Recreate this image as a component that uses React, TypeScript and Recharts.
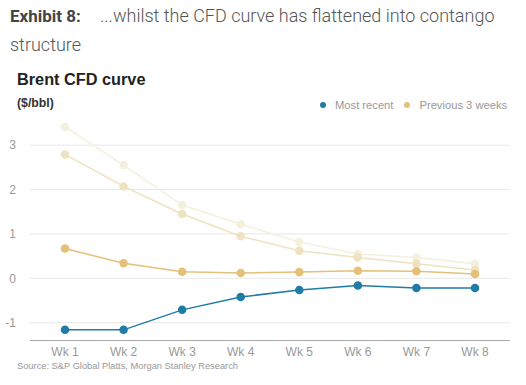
import React from "react";
import { LineChart, Line, XAxis, YAxis, CartesianGrid } from "recharts";

const weeks = ["Wk 1", "Wk 2", "Wk 3", "Wk 4", "Wk 5", "Wk 6", "Wk 7", "Wk 8"];
const mostRecent = [-1.16, -1.16, -0.71, -0.42, -0.26, -0.16, -0.22, -0.22];
const oneWeekAgo = [0.67, 0.34, 0.15, 0.12, 0.14, 0.17, 0.16, 0.1];
const twoWeeksAgo = [2.79, 2.07, 1.45, 0.95, 0.62, 0.47, 0.33, 0.19];
const threeWeeksAgo = [3.41, 2.55, 1.65, 1.22, 0.82, 0.55, 0.47, 0.33];
const yTicks = [-1, 0, 1, 2, 3];

const data = weeks.map((w, i) => ({
  week: w,
  recent: mostRecent[i],
  w1: oneWeekAgo[i],
  w2: twoWeeksAgo[i],
  w3: threeWeeksAgo[i],
}));

const BLUE = "#1f7ca6";
const GOLD = "#e4c079";
const GOLD2 = "#efe2c0";
const GOLD3 = "#f5f0dc";

export default function App() {
  return (
    <div
      style={{
        position: "fixed",
        left: 0,
        top: 0,
        width: 526,
        height: 385,
        background: "#fff",
        overflow: "hidden",
        fontFamily: "Arial, 'Liberation Sans', sans-serif",
      }}
    >
      <div
        style={{
          position: "absolute",
          left: 10,
          top: 1,
          fontFamily: "Roboto, sans-serif",
          fontSize: 17,
          lineHeight: "30px",
          color: "#444",
          fontWeight: 700,
          whiteSpace: "nowrap",
        }}
      >
        Exhibit 8:
      </div>
      <div
        style={{
          position: "absolute",
          left: 100,
          top: 1,
          fontFamily: "Roboto, sans-serif",
          fontSize: 18,
          lineHeight: "30px",
          color: "#555",
          fontWeight: 300,
          whiteSpace: "nowrap",
        }}
      >
        ...whilst the CFD curve has flattened into contango
      </div>
      <div
        style={{
          position: "absolute",
          left: 10,
          top: 30,
          fontFamily: "Roboto, sans-serif",
          fontSize: 18,
          lineHeight: "30px",
          color: "#555",
          fontWeight: 300,
          whiteSpace: "nowrap",
        }}
      >
        structure
      </div>
      <div style={{ position: "absolute", left: 17, top: 70, fontSize: 16.3, fontWeight: 700, color: "#222", whiteSpace: "nowrap" }}>
        Brent CFD curve
      </div>
      <div style={{ position: "absolute", left: 17, top: 96, fontSize: 12.3, fontWeight: 700, color: "#333", whiteSpace: "nowrap" }}>
        ($/bbl)
      </div>
      <div
        style={{
          position: "absolute",
          left: 320,
          top: 98.5,
          fontSize: 11.2,
          color: "#999",
          display: "flex",
          alignItems: "center",
          whiteSpace: "nowrap",
        }}
      >
        <span style={{ width: 6, height: 6, borderRadius: 3, background: BLUE, display: "inline-block", marginRight: 9 }} />
        <span>Most recent</span>
        <span style={{ width: 6, height: 6, borderRadius: 3, background: GOLD, display: "inline-block", marginLeft: 11, marginRight: 9 }} />
        <span>Previous 3 weeks</span>
      </div>
      <div style={{ position: "absolute", left: 0, top: 0 }}>
        <LineChart width={526} height={385} data={data} margin={{ top: 118.5, right: 16, bottom: 14.5, left: 0 }}>
          <CartesianGrid vertical={false} stroke="#e8e8e8" horizontalValues={yTicks} />
          <XAxis
            dataKey="week"
            tickLine={false}
            axisLine={{ stroke: "#aaa" }}
            tick={{ fill: "#999", fontSize: 12 }}
            tickMargin={1}
            padding={{ left: 35, right: 35 }}
            interval={0}
            height={30}
          />
          <YAxis
            width={30}
            domain={[-1.4, 3.6]}
            ticks={yTicks}
            axisLine={false}
            tickLine={false}
            tickMargin={8}
            tick={{ fill: "#999", fontSize: 12 }}
          />
          <Line dataKey="w3" name="3 weeks ago" stroke={GOLD3} strokeWidth={1.5} dot={{ r: 3.5, fill: GOLD3, stroke: GOLD3 }} isAnimationActive={false} />
          <Line dataKey="w2" name="2 weeks ago" stroke={GOLD2} strokeWidth={1.5} dot={{ r: 3.5, fill: GOLD2, stroke: GOLD2 }} isAnimationActive={false} />
          <Line dataKey="w1" name="1 week ago" stroke={GOLD} strokeWidth={1.5} dot={{ r: 3.5, fill: GOLD, stroke: GOLD }} isAnimationActive={false} />
          <Line dataKey="recent" name="Most recent" stroke={BLUE} strokeWidth={1.5} dot={{ r: 3.5, fill: BLUE, stroke: BLUE }} isAnimationActive={false} />
        </LineChart>
      </div>
      <div style={{ position: "absolute", left: 17, top: 361, fontSize: 9.3, color: "#999", whiteSpace: "nowrap" }}>
        Source: S&amp;P Global Platts, Morgan Stanley Research
      </div>
    </div>
  );
}
